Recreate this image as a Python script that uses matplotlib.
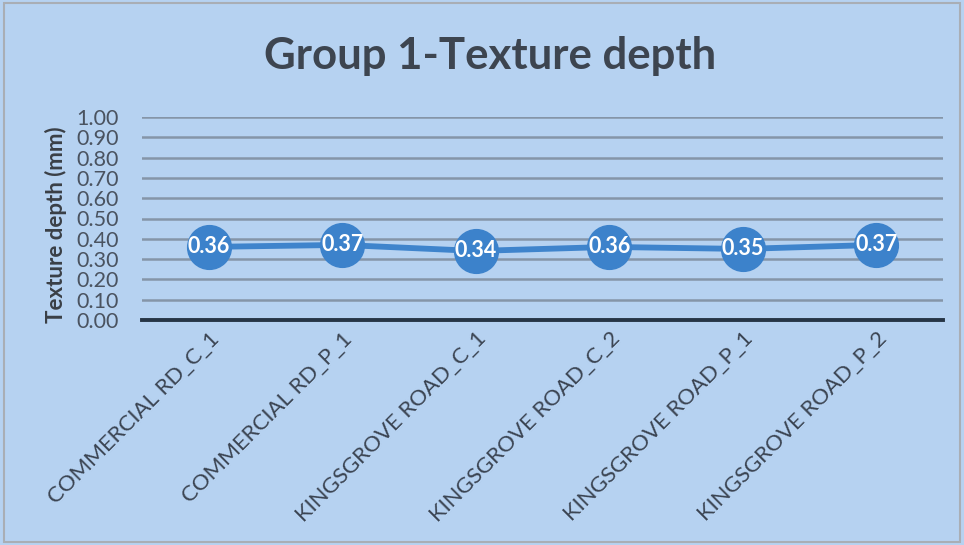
import matplotlib
matplotlib.use("Agg")
import matplotlib.pyplot as plt
from matplotlib.patches import Rectangle

categories = ["COMMERCIAL RD_C_1", "COMMERCIAL RD_P_1", "KINGSGROVE ROAD_C_1",
              "KINGSGROVE ROAD_C_2", "KINGSGROVE ROAD_P_1", "KINGSGROVE ROAD_P_2"]
values = [0.36, 0.37, 0.34, 0.36, 0.35, 0.37]
yticks = [0.0, 0.1, 0.2, 0.3, 0.4, 0.5, 0.6, 0.7, 0.8, 0.9, 1.0]

plt.rcParams['font.family'] = ['Lato', 'DejaVu Sans']

bg = '#b6d2f1'
fig = plt.figure(figsize=(9.64, 5.45), dpi=100, facecolor=bg)
fig.patches.append(Rectangle((0.004, 0.006), 0.992, 0.988, transform=fig.transFigure,
                             fill=False, edgecolor='#a9aeb5', linewidth=1.5))
ax = fig.add_axes([142/964, 1-320/545, (943-142)/964, (320-117)/545])
ax.set_facecolor(bg)

ax.set_xlim(-0.5, len(categories)-0.5)
ax.set_ylim(0, 1.0)
for t in yticks[1:]:
    ax.axhline(t, color='#8595a8', linewidth=1.8, zorder=1)
ax.axhline(0, color='#263545', linewidth=2.8, zorder=2, clip_on=False)

x = list(range(len(categories)))
ax.plot(x, values, color='#3f84cc', linewidth=4.2, zorder=3,
        marker='o', markersize=31.5, markerfacecolor='#3c82cb', markeredgecolor='#3c82cb')
for xi, v in zip(x, values):
    ax.text(xi, v, f"{v:.2f}", ha='center', va='center', color='white',
            fontsize=15.5, fontweight='bold', zorder=4)

for s in ax.spines.values():
    s.set_visible(False)
ax.set_yticks(yticks)
ax.set_yticklabels([f"{t:.2f}" for t in yticks], fontsize=15.5, color='#4a5360')
ax.tick_params(axis='y', length=0, pad=16.5)
ax.set_xticks(x)
ax.set_xticklabels(categories, rotation=45, ha='right', rotation_mode='anchor',
                   fontsize=16, color='#3b4452')
ax.tick_params(axis='x', length=0, pad=6)
ax.set_ylabel("Texture depth (mm)", fontsize=16, fontweight='bold', color='#3a3f46')
ax.yaxis.set_label_coords((67-142)/(943-142), 0.47)

fig.text(490/964, 1-56/545, "Group 1-Texture depth", ha='center', va='center',
         fontsize=31.5, fontweight='bold', color='#3d4550')

fig.savefig("out.png", dpi=100, facecolor=bg)
